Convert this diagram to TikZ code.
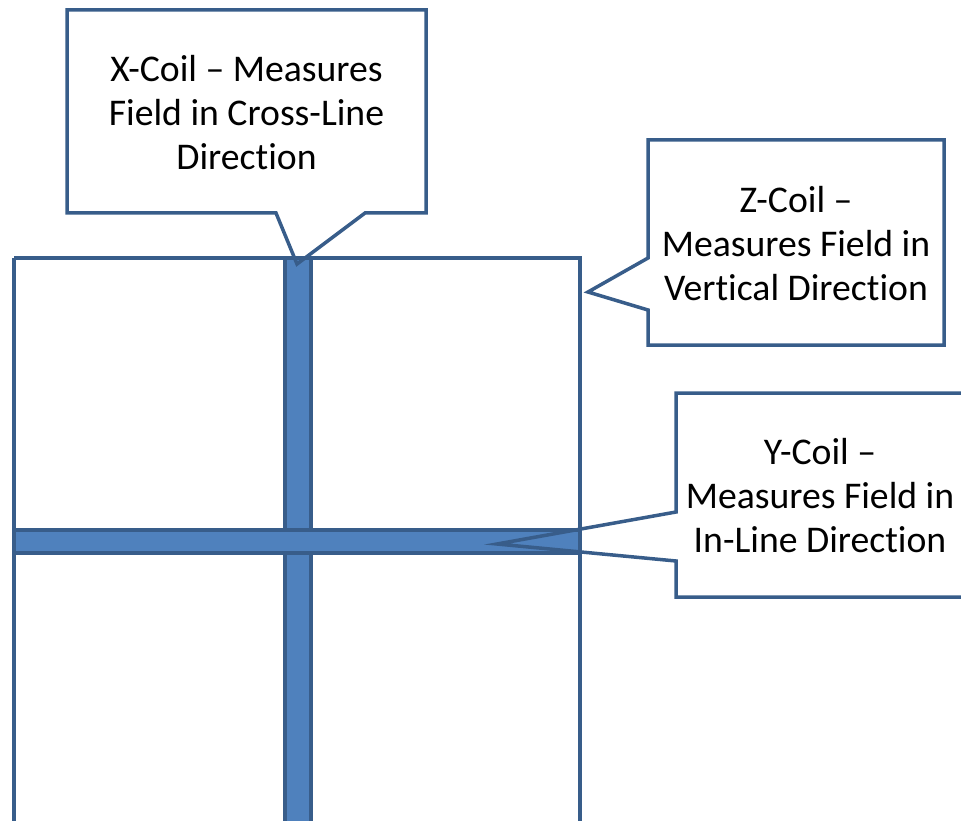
\documentclass[tikz,border=0pt]{standalone}
\usepackage{fontspec}
\setmainfont[RawFeature={-liga;-clig;-dlig;-calt}]{Carlito}
\newcommand{\tbreak}{t\kern0pt i}
\definecolor{edge}{HTML}{385D8A}
\definecolor{barfill}{HTML}{4F81BD}
\tikzset{
  outline/.style={draw=edge, line width=4.5pt, line join=miter},
  bar/.style={outline, fill=barfill},
  calloutline/.style={draw=edge, line width=3.5pt, line join=miter},
  label/.style={align=center, font=\fontsize{37.7}{44}\selectfont, text=black, inner sep=0pt}
}
\begin{document}
\begin{tikzpicture}[x=1pt,y=-1pt]
\useasboundingbox (0,0) rectangle (961,821);
\clip (0,0) rectangle (961,821);
% frame
\draw[outline] (14,258) -- (580,258) -- (580,860) (14,860) -- (14,258);
% bars
\draw[bar] (285,258) rectangle (311,860);
\draw[bar] (14,530) rectangle (580,553);
% X-coil callout
\draw[calloutline] (67,10) -- (426,10) -- (426,213) -- (365,213) -- (297,264) -- (276,213) -- (67,213) -- cycle;
\node[label] (xc) at (246.5,113) {X-Coil -- Measures\\Field in Cross-Line\\Direc\tbreak on};
% Z-coil callout
\draw[calloutline] (648,140) -- (944,140) -- (944,345) -- (648,345) -- (648,310) -- (588,292) -- (648,258) -- cycle;
\node[label] (zc) at (796,244) {Z-Coil --\\Measures Field in\\Ver\tbreak cal Direc\tbreak on};
% Y-coil callout
\draw[calloutline] (676,393) -- (990,393) -- (990,597) -- (676,597) -- (676,561) -- (497,544) -- (676,512) -- cycle;
\node[label] (yc) at (820,496) {Y-Coil --\\Measures Field in\\In-Line Direc\tbreak on};
\end{tikzpicture}
\end{document}
